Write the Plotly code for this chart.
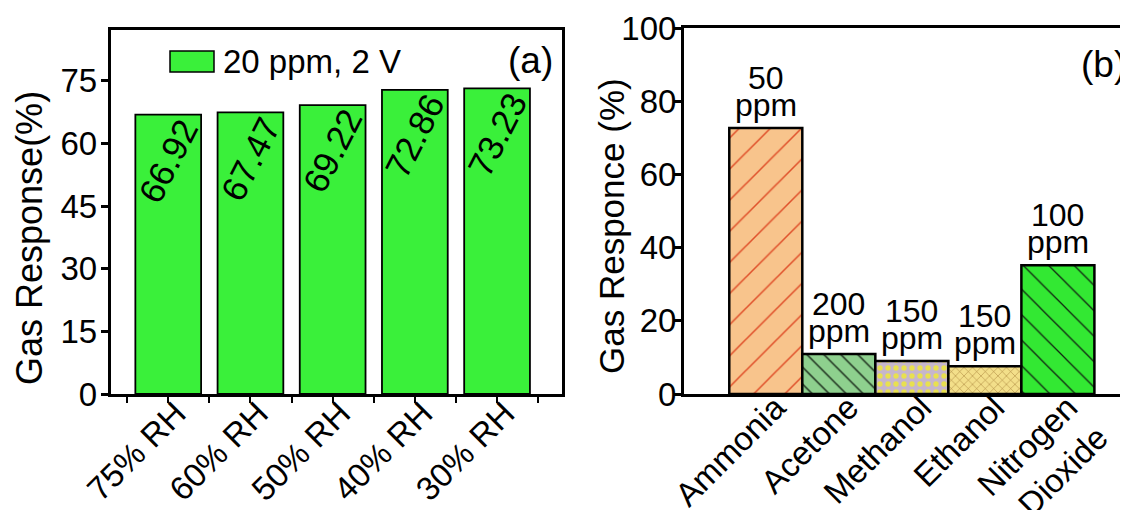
import plotly.graph_objects as go

# ---------------- data ----------------
rh_labels = ["75% RH", "60% RH", "50% RH", "40% RH", "30% RH"]
rh_values = [66.92, 67.47, 69.22, 72.86, 73.23]
rh_value_text = ["66.92", "67.47", "69.22", "72.86", "73.23"]
legend_label = "20 ppm, 2 V"

gases = ["Ammonia", "Acetone", "Methanol", "Ethanol", "Nitrogen<br>Dioxide"]
gas_values = [72.7, 10.9, 9.0, 7.6, 35.2]
gas_conc = ["50", "200", "150", "150", "100"]
conc_unit = "ppm"

# ---------------- styles ----------------
FONT = "Liberation Sans, Arial, sans-serif"
OFF = 8                      # page body margin of the html page
W, H = 1128 - OFF, 510 - OFF
green = "#3AF03A"
gas_bg = ["#F8C48C", "#8ED08E", "#C6B6CC", "#F3DF8A", "#33E833"]
gas_fg = ["#E0502A", "#1A2A1A", "#E8E050", "#A07830", "#102010"]
gas_shape = ["/", "\\", ".", "x", "\\"]
gas_size = [22, 12, 8, 6, 18]
gas_sol = [0.07, 0.12, 0.35, 0.15, 0.07]


def px_x(p):
    return (p - OFF) / W


def px_y(p):
    return 1 - (p - OFF) / H


xa_dom = [px_x(110.7), px_x(562)]
ya_dom = [px_y(394), px_y(30)]
xb_dom = [px_x(684), 1.0]
yb_dom = [px_y(394), px_y(28)]

idx_a = list(range(len(rh_labels)))
idx_b = list(range(len(gases)))

fig = go.Figure()

fig.add_trace(go.Bar(
    x=idx_a, y=rh_values, width=0.8, xaxis="x", yaxis="y",
    marker=dict(color=green, line=dict(color="black", width=1.8)),
    showlegend=False, hoverinfo="skip"))

for i in idx_b:
    fig.add_trace(go.Bar(
        x=[i], y=[gas_values[i]], width=1.0, xaxis="x2", yaxis="y2",
        marker=dict(color=gas_bg[i], line=dict(color="black", width=2.5),
                    pattern=dict(shape=gas_shape[i], fgcolor=gas_fg[i], fgopacity=1,
                                 size=gas_size[i], solidity=gas_sol[i], fillmode="overlay")),
        showlegend=False, hoverinfo="skip"))

annotations = []
# value labels inside bars of panel (a)
for i, (v, t) in enumerate(zip(rh_values, rh_value_text)):
    annotations.append(dict(x=i, y=v - 11, xref="x", yref="y", text=t,
                            xanchor="center", yanchor="middle",
                            showarrow=False, textangle=-63,
                            font=dict(family=FONT, size=35, color="black")))
# concentration labels in panel (b)
for i, (v, c) in enumerate(zip(gas_values, gas_conc)):
    annotations.append(dict(x=i, y=v, xref="x2", yref="y2", text=conc_unit,
                            showarrow=False, xanchor="center", yanchor="bottom", yshift=3,
                            font=dict(family=FONT, size=32, color="black")))
    annotations.append(dict(x=i, y=v, xref="x2", yref="y2", text=c,
                            showarrow=False, xanchor="center", yanchor="bottom", yshift=30,
                            font=dict(family=FONT, size=32, color="black")))

# legend text, panel tags, axis titles
annotations += [
    dict(x=px_x(221), y=px_y(61), xref="paper", yref="paper", text=legend_label,
         xanchor="left", yanchor="middle", showarrow=False,
         font=dict(family=FONT, size=33, color="black")),
    dict(x=px_x(530), y=px_y(60), xref="paper", yref="paper", text="(a)",
         xanchor="center", yanchor="middle",
         showarrow=False, font=dict(family=FONT, size=37, color="black")),
    dict(x=px_x(1103), y=px_y(64), xref="paper", yref="paper", text="(b)",
         xanchor="center", yanchor="middle",
         showarrow=False, font=dict(family=FONT, size=37, color="black")),
    dict(x=px_x(29), y=px_y(238), xref="paper", yref="paper", text="Gas Response(%)",
         xanchor="center", yanchor="middle",
         textangle=-90, showarrow=False, font=dict(family=FONT, size=36, color="black")),
    dict(x=px_x(611), y=px_y(226), xref="paper", yref="paper", text="Gas Responce (%)",
         xanchor="center", yanchor="middle",
         textangle=-90, showarrow=False, font=dict(family=FONT, size=35, color="black")),
]

shapes = [
    dict(type="rect", xref="paper", yref="paper",
         x0=px_x(170), x1=px_x(214), y0=px_y(72), y1=px_y(51),
         fillcolor=green, line=dict(color="black", width=1.5)),
]

tickfont = dict(family=FONT, size=33, color="black")

fig.update_layout(
    width=W, height=H,
    margin=dict(l=0, r=0, t=0, b=0),
    paper_bgcolor="white", plot_bgcolor="white",
    showlegend=False,
    annotations=annotations, shapes=shapes,
    xaxis=dict(domain=xa_dom, range=[-0.70, 4.79], anchor="y",
               tickmode="array", tickvals=idx_a, ticktext=rh_labels, tickangle=-45,
               ticklabelstandoff=-22, ticklabelshift=8,
               ticks="outside", ticklen=6, tickwidth=2, tickcolor="black",
               minor=dict(tickmode="array", tickvals=[i - 0.5 for i in idx_a] + [idx_a[-1] + 0.5],
                          ticks="outside", ticklen=6, tickwidth=2, tickcolor="black"),
               showline=True, linewidth=3, linecolor="black", mirror=True,
               showgrid=False, zeroline=False, tickfont=tickfont, automargin=False),
    yaxis=dict(domain=ya_dom, range=[0, 87.2], anchor="x",
               tickmode="linear", tick0=0, dtick=15, ticklabelstandoff=-3,
               ticks="outside", ticklen=7, tickwidth=2.5, tickcolor="black",
               showline=True, linewidth=3, linecolor="black", mirror=True,
               showgrid=False, zeroline=False, tickfont=tickfont, automargin=False),
    yaxis3=dict(domain=ya_dom, range=[0, 87.2], anchor="x", overlaying="y",
                tickmode="linear", tick0=0, dtick=15, ticks="inside", ticklen=6,
                tickwidth=2.5, tickcolor="black", showticklabels=False,
                showline=False, showgrid=False, zeroline=False),
    xaxis2=dict(domain=xb_dom, range=[-1.12, 4.96], anchor="y2",
                tickmode="array", tickvals=idx_b, ticktext=gases, tickangle=-45,
                ticklabelstandoff=-22, ticklabelshift=10,
                ticks="",
                showline=True, linewidth=3, linecolor="black", mirror=True,
                showgrid=False, zeroline=False, tickfont=tickfont, automargin=False),
    yaxis2=dict(domain=yb_dom, range=[0, 100], anchor="x2",
                tickmode="linear", tick0=0, dtick=20, ticklabelstandoff=-9,
                ticks="outside", ticklen=7, tickwidth=2.5, tickcolor="black",
                showline=True, linewidth=3, linecolor="black", mirror=False,
                showgrid=False, zeroline=False, tickfont=tickfont, automargin=False),
    yaxis4=dict(domain=yb_dom, range=[0, 100], anchor="x2", overlaying="y2",
                tickmode="linear", tick0=0, dtick=20, ticks="inside", ticklen=6,
                tickwidth=2.5, tickcolor="black", showticklabels=False,
                showline=False, showgrid=False, zeroline=False),
)

fig.write_html("out.html")
